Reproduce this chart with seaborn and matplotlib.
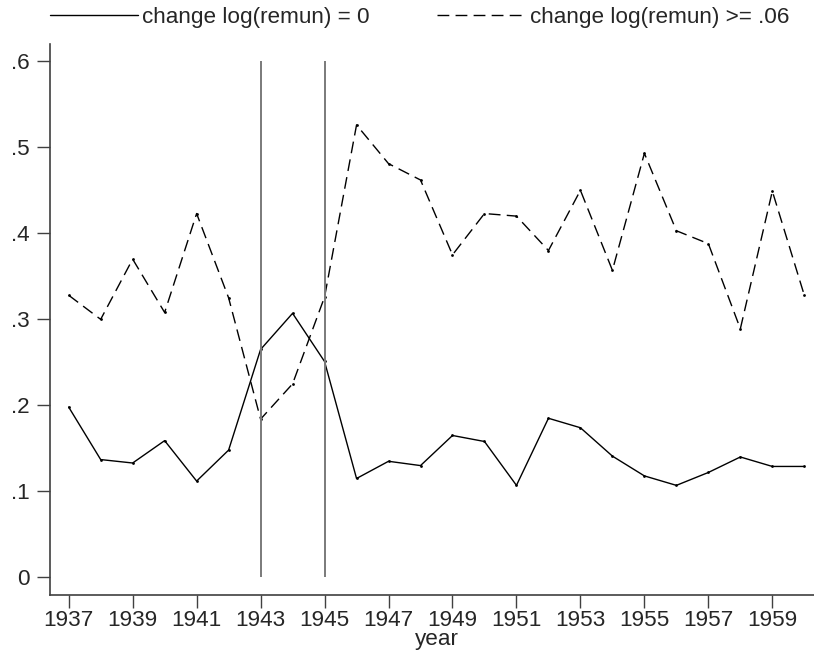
import pandas as pd
import seaborn as sns
import matplotlib.pyplot as plt
from matplotlib.lines import Line2D

years = list(range(1937, 1961))
# share of workers with change log(remun) = 0
share_zero = [0.198, 0.137, 0.133, 0.159, 0.112, 0.148, 0.265, 0.307,
              0.251, 0.115, 0.135, 0.130, 0.165, 0.158, 0.107, 0.185,
              0.174, 0.141, 0.118, 0.107, 0.122, 0.140, 0.129, 0.129]
# share of workers with change log(remun) >= .06
share_big = [0.328, 0.300, 0.370, 0.308, 0.423, 0.325, 0.184, 0.225,
             0.326, 0.526, 0.481, 0.462, 0.375, 0.423, 0.420, 0.380,
             0.450, 0.357, 0.493, 0.403, 0.388, 0.289, 0.449, 0.328]
war_years = [1943, 1945]
labels = ["change log(remun) = 0", "change log(remun) >= .06"]

df = pd.DataFrame({"year": years, "zero": share_zero, "big": share_big})

sns.set_style("ticks")
plt.rcParams["font.family"] = ["Liberation Sans", "DejaVu Sans"]
plt.rcParams["font.size"] = 16.2

fig = plt.figure(figsize=(8.14, 6.53), dpi=100)
W, H = 814, 653
ax = fig.add_axes([50 / W, 1 - 594.7 / H, (823 - 50) / W, (594.7 - 44) / H])

dash = (0, (8.5, 4.5))
sns.lineplot(data=df, x="year", y="zero", color="black", lw=1, marker="o",
             ms=2, mec="black", mew=0, ax=ax)
sns.lineplot(data=df, x="year", y="big", color="black", lw=1, ls=dash,
             marker="o", ms=2, mec="black", mew=0, ax=ax)
ax.vlines(war_years, 0, 0.6, color="#7a7a7a", lw=1.4)

ax.set_xlim(1937 - 18.7 / 32, 1960 + 18.7 / 32)
ax.set_ylim(-0.0201, 0.6201)
ax.set_xticks(range(1937, 1961, 2))
ax.set_yticks([0, .1, .2, .3, .4, .5, .6])
ax.set_yticklabels(["0", ".1", ".2", ".3", ".4", ".5", ".6"])
ax.set_xlabel("year", labelpad=-1.5)
ax.set_ylabel("")

sns.despine(ax=ax)
for s in ["left", "bottom"]:
    ax.spines[s].set_color("#404040")
    ax.spines[s].set_linewidth(1.2)
ax.tick_params(axis="both", length=9.5, width=1, color="#404040")
ax.tick_params(axis="x", pad=1.5)
ax.tick_params(axis="y", pad=5)

handles = [Line2D([], [], color="black", lw=1),
           Line2D([], [], color="black", lw=1, ls=dash)]
fig.legend(handles, labels, ncol=2, frameon=False, loc="center left",
           bbox_to_anchor=(50 / W, 1 - 17 / H), borderpad=0,
           borderaxespad=0, handlelength=3.9, handletextpad=0.2,
           columnspacing=3.0)

plt.savefig("out.png", dpi=100)
